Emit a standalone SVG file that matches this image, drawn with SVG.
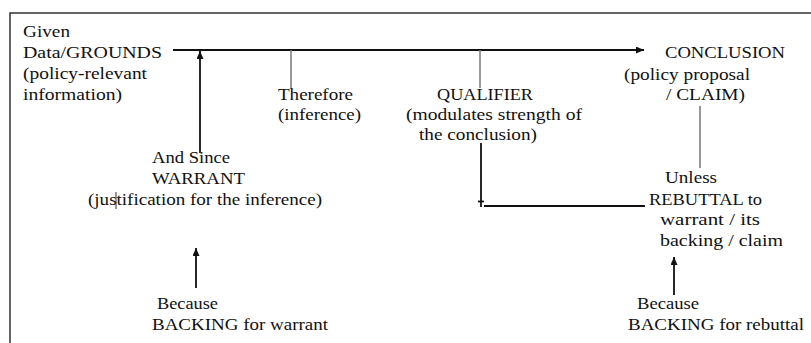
<svg xmlns="http://www.w3.org/2000/svg" width="811" height="343" viewBox="0 0 811 343">
<defs>
<style>
text{font-family:'Liberation Serif','Times New Roman',serif;font-size:17px;fill:#111}
.ln{stroke:#111;stroke-width:1.8;fill:none}
.gr{stroke:#777;stroke-width:1.5;fill:none}
.bd{stroke:#333;stroke-width:1.5;fill:none}
</style>
<marker id="ah" markerUnits="userSpaceOnUse" markerWidth="9" markerHeight="8" refX="8" refY="3.5" orient="auto">
<path d="M0,0 L8,3.5 L0,7 z" fill="#111"/>
</marker>
</defs>
<rect width="811" height="343" fill="#fff"/>
<path class="bd" d="M10,343 V13 H811"/>
<g id="connectors">
<line class="ln" x1="173" y1="50" x2="644" y2="50" marker-end="url(#ah)"/>
<line class="gr" x1="291" y1="50" x2="291" y2="88"/>
<line class="gr" x1="480" y1="50" x2="480" y2="88"/>
<line class="ln" x1="200" y1="153" x2="200" y2="51" marker-end="url(#ah)"/>
<line class="gr" x1="700" y1="106" x2="700" y2="168"/>
<line class="ln" x1="481" y1="143" x2="481" y2="207" stroke-width="1.4"/>
<line class="ln" x1="478" y1="201.5" x2="484" y2="201.5" stroke-width="1"/>
<line class="ln" x1="484" y1="206" x2="645" y2="206" stroke-width="1.5"/>
<line class="ln" x1="196" y1="288" x2="196" y2="248" marker-end="url(#ah)"/>
<line class="ln" x1="674" y1="295" x2="674" y2="257" marker-end="url(#ah)"/>
<line x1="116" y1="192" x2="116" y2="209" stroke="#333" stroke-width="1"/>
</g>
<g id="data">
<text x="23" y="37" textLength="47" lengthAdjust="spacingAndGlyphs">Given</text>
<text x="23" y="58" textLength="139" lengthAdjust="spacingAndGlyphs">Data/GROUNDS</text>
<text x="23" y="79" textLength="124" lengthAdjust="spacingAndGlyphs">(policy-relevant</text>
<text x="23" y="100" textLength="99" lengthAdjust="spacingAndGlyphs">information)</text>
</g>
<g id="therefore">
<text x="278" y="100" textLength="75" lengthAdjust="spacingAndGlyphs">Therefore</text>
<text x="278" y="120" textLength="83" lengthAdjust="spacingAndGlyphs">(inference)</text>
</g>
<g id="qualifier">
<text x="437" y="100" textLength="96" lengthAdjust="spacingAndGlyphs">QUALIFIER</text>
<text x="406" y="120" textLength="176" lengthAdjust="spacingAndGlyphs">(modulates strength of</text>
<text x="419" y="140" textLength="118" lengthAdjust="spacingAndGlyphs">the conclusion)</text>
</g>
<g id="conclusion">
<text x="665" y="58" textLength="120" lengthAdjust="spacingAndGlyphs">CONCLUSION</text>
<text x="624" y="80" textLength="126" lengthAdjust="spacingAndGlyphs">(policy proposal</text>
<text x="666" y="100" textLength="79" lengthAdjust="spacingAndGlyphs">/ CLAIM)</text>
</g>
<g id="warrant">
<text x="152" y="163" textLength="78" lengthAdjust="spacingAndGlyphs">And Since</text>
<text x="152" y="184" textLength="93" lengthAdjust="spacingAndGlyphs">WARRANT</text>
<text x="88" y="205" textLength="234" lengthAdjust="spacingAndGlyphs">(justification for the inference)</text>
</g>
<g id="rebuttal">
<text x="665" y="183" textLength="52" lengthAdjust="spacingAndGlyphs">Unless</text>
<text x="649" y="205" textLength="113" lengthAdjust="spacingAndGlyphs">REBUTTAL to</text>
<text x="660" y="225" textLength="100" lengthAdjust="spacingAndGlyphs">warrant / its</text>
<text x="660" y="246" textLength="123" lengthAdjust="spacingAndGlyphs">backing / claim</text>
</g>
<g id="backing-warrant">
<text x="157" y="309" textLength="61" lengthAdjust="spacingAndGlyphs">Because</text>
<text x="152" y="330" textLength="176" lengthAdjust="spacingAndGlyphs">BACKING for warrant</text>
</g>
<g id="backing-rebuttal">
<text x="637" y="309" textLength="62" lengthAdjust="spacingAndGlyphs">Because</text>
<text x="628" y="330" textLength="176" lengthAdjust="spacingAndGlyphs">BACKING for rebuttal</text>
</g>
</svg>
